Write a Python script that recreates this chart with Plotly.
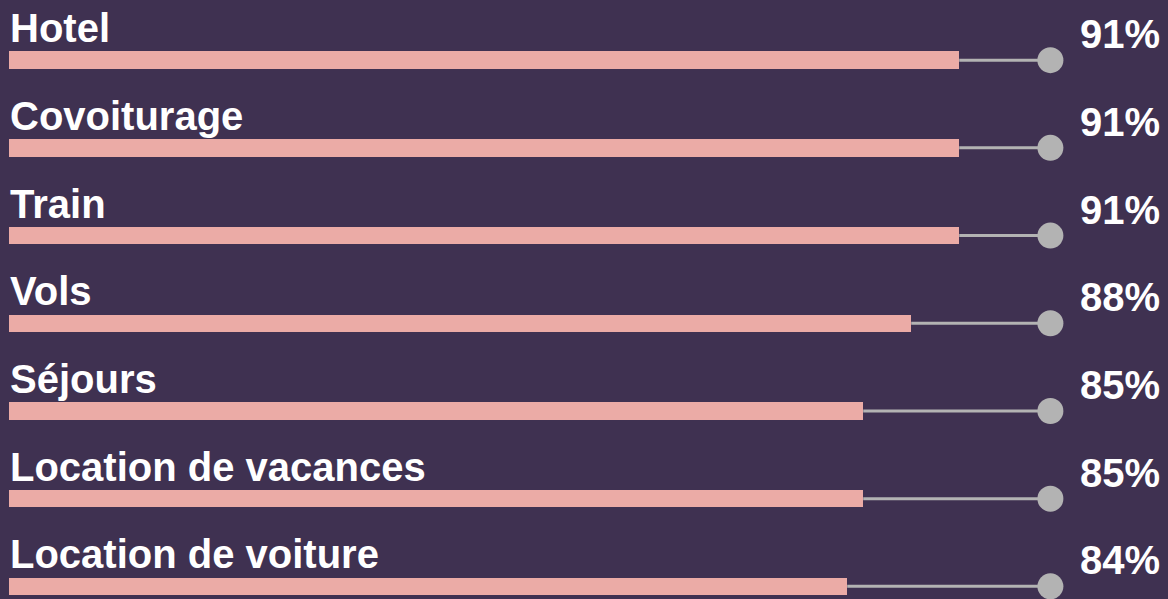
import plotly.graph_objects as go

categories = ["Hotel", "Covoiturage", "Train", "Vols", "Séjours",
              "Location de vacances", "Location de voiture"]
values = [91, 91, 91, 88, 85, 85, 84]
labels = [f"{v}%" for v in values]
track_end = 96.7

BG = "#3F3151"
BAR = "#EBABA6"
GRAY = "#B3B3B3"
FONT = "Liberation Sans, Arial, sans-serif"

rows = list(range(len(categories)))

fig = go.Figure()

# connector lines
for i, v in zip(rows, values):
    fig.add_trace(go.Scatter(x=[v, track_end], y=[i, i], mode="lines",
                             line=dict(color=GRAY, width=3),
                             hoverinfo="skip", showlegend=False))

fig.add_trace(go.Bar(x=values, y=rows, orientation="h", width=0.2,
                     marker=dict(color=BAR, line=dict(width=0)),
                     showlegend=False, hoverinfo="skip"))

fig.add_trace(go.Scatter(x=[track_end] * len(rows), y=rows, mode="markers",
                         marker=dict(color=GRAY, size=26, line=dict(width=0)),
                         cliponaxis=False, showlegend=False, hoverinfo="skip"))

for i, (c, lab) in enumerate(zip(categories, labels)):
    fig.add_annotation(x=0, xref="paper", xanchor="left", y=i, yref="y",
                       yanchor="middle", yshift=32, xshift=-1, text=c, showarrow=False,
                       font=dict(family=FONT, size=40, color="white", weight="bold"))
    fig.add_annotation(x=1, xref="paper", xanchor="right", y=i, yref="y",
                       yanchor="middle", yshift=26, xshift=-6, text=lab, showarrow=False,
                       font=dict(family=FONT, size=40, color="white", weight="bold"))

fig.update_layout(
    width=1168, height=599,
    paper_bgcolor=BG, plot_bgcolor=BG,
    margin=dict(l=9, r=0, t=0, b=0),
    bargap=0,
    xaxis=dict(range=[31.61, 104.05], visible=False, fixedrange=True),
    yaxis=dict(range=[6.144, -0.686], visible=False, fixedrange=True),
)

fig.write_html("out.html",
               config=dict(displayModeBar=False, staticPlot=True),
               post_script="document.body.style.margin='0';document.body.style.background='#3F3151';")
